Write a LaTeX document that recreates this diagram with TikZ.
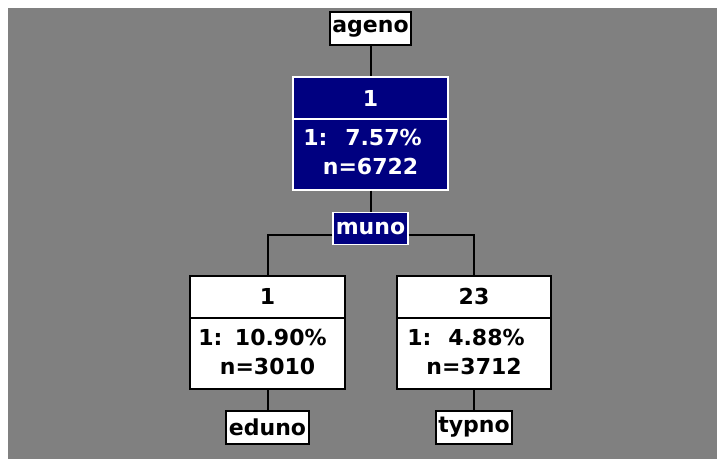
\documentclass[tikz,border=0pt]{standalone}
\usepackage{fontspec}
\setmainfont{DejaVu Sans}
\definecolor{treegray}{RGB}{128,128,128}
\definecolor{treenavy}{RGB}{0,0,128}
\begin{document}
\begin{tikzpicture}[x=0.5pt,y=-0.5pt,
    txt/.style={inner sep=0pt,font=\fontsize{11}{13}\bfseries\selectfont},
    varbox/.style={txt,draw=black,fill=white,line width=0.8pt,minimum height=16.5pt},
    splitbox/.style={draw=white,fill=treenavy,text=white,line width=0.6pt,inner sep=0pt,minimum height=16pt,font=\fontsize{11}{13}\bfseries\selectfont},
    leafbox/.style={draw=black,fill=white,line width=0.8pt,minimum width=77.5pt,minimum height=56.5pt},
    rootbox/.style={draw=white,fill=treenavy,line width=0.6pt,minimum width=77.5pt,minimum height=56.5pt},
    edge/.style={draw=black,line width=1pt}]
    \useasboundingbox (0,0) rectangle (717,459);
    \fill[treegray] (8,8) rectangle (717,459);
    % top of the tree
    \node[varbox,minimum width=40.5pt] (ageno) at (370.5,28.5) {ageno};
    \node[rootbox] (root) at (370.5,133.5) {};
    \draw[white,line width=0.6pt] (root.west |- 0,119) -- (root.east |- 0,119);
    \node[txt,text=white] (rootcls) at (370.5,98) {1};
    \node[txt,text=white,anchor=west] (rootlab) at (303,137) {1:};
    \node[txt,text=white,anchor=east] (rootpct) at (422,137) {7.57\%};
    \node[txt,text=white] (rootn) at (370.5,166) {n=6722};
    \node[splitbox,minimum width=37.5pt] (muno) at (370.5,228.5) {muno};
    % left leaf
    \node[leafbox] (left) at (267.5,332.5) {};
    \draw[black,line width=0.8pt] (left.west |- 0,318) -- (left.east |- 0,318);
    \node[txt] (leftcls) at (267.5,296) {1};
    \node[txt,anchor=west] (leftlab) at (198,337) {1:};
    \node[txt,anchor=east] (leftpct) at (327,337) {10.90\%};
    \node[txt] (leftn) at (267.5,366) {n=3010};
    \node[varbox,minimum width=41.5pt] (eduno) at (267.5,427.5) {eduno};
    % right leaf
    \node[leafbox,minimum width=77pt] (right) at (474,332.5) {};
    \draw[black,line width=0.8pt] (right.west |- 0,318) -- (right.east |- 0,318);
    \node[txt] (rightcls) at (474,296) {23};
    \node[txt,anchor=west] (rightlab) at (407,337) {1:};
    \node[txt,anchor=east] (rightpct) at (525,337) {4.88\%};
    \node[txt] (rightn) at (474,366) {n=3712};
    \node[varbox,minimum width=38pt] (typno) at (474,427.5) {typno};
    % connectors
    \coordinate (jl) at (267.5,235);
    \coordinate (jr) at (474,235);
    \draw[edge] (ageno.south) -- (root.north);
    \draw[edge] (root.south) -- (muno.north);
    \draw[edge] (muno.west |- jl) -- (jl) -- (left.north);
    \draw[edge] (muno.east |- jr) -- (jr) -- (right.north);
    \draw[edge] (left.south) -- (eduno.north);
    \draw[edge] (right.south) -- (typno.north);
\end{tikzpicture}
\end{document}
